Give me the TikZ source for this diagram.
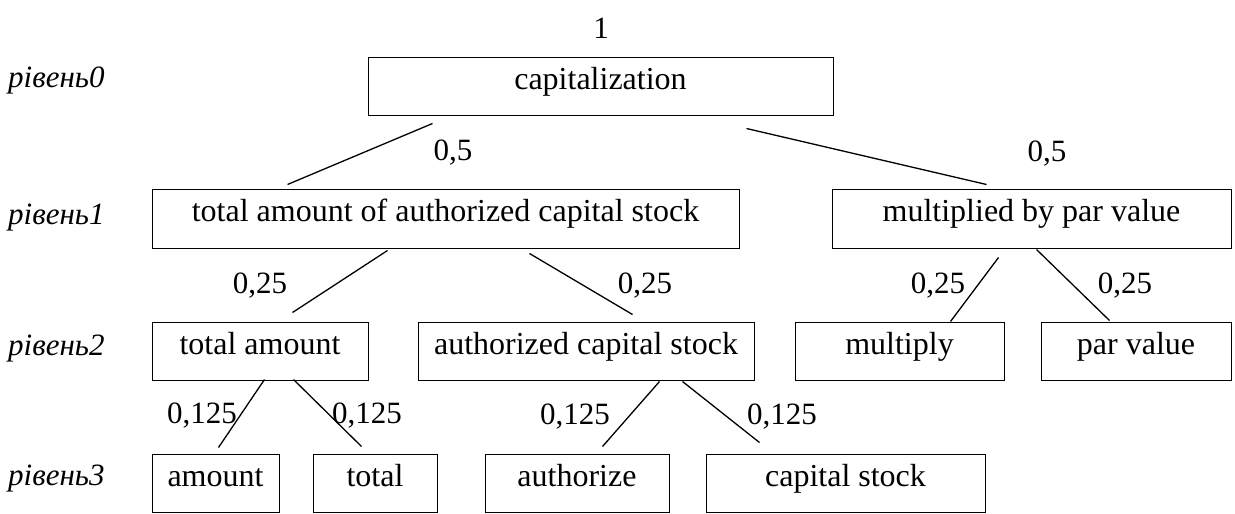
\documentclass[tikz,border=0pt]{standalone}
\usepackage{fontspec}
\setmainfont{Liberation Serif}
\usetikzlibrary{calc}
\begin{document}
\begin{tikzpicture}[x=1pt,y=-1pt,
  box/.style={draw,line width=1pt,inner sep=0pt,text height=14pt,text depth=8pt,font=\fontsize{32}{38}\selectfont},
  lvl/.style={anchor=west,inner sep=0pt,font=\fontsize{31}{36}\selectfont\itshape},
  wt/.style={inner sep=0pt,font=\fontsize{31}{36}\selectfont},
  conn/.style={line width=1.3pt}]
\useasboundingbox (0,0) rectangle (1235,514);
% level labels
\node[lvl] (l0) at (8,80) {рівень0};
\node[lvl] (l1) at (8,218) {рівень1};
\node[lvl] (l2) at (8,349) {рівень2};
\node[lvl] (l3) at (8,479) {рівень3};
\node[wt] (one) at (601,28) {1};
% level 0
\node[box,minimum width=465,minimum height=58] (cap) at (600.5,86) {capitalization};
% level 1
\node[box,minimum width=587,minimum height=59] (taac) at (445.5,218.5) {total amount of authorized capital stock};
\node[box,minimum width=399,minimum height=59] (mpv) at (1031.5,218.5) {multiplied by par value};
% level 2
\node[box,minimum width=216,minimum height=58] (ta) at (260,351) {total amount};
\node[box,minimum width=336,minimum height=58] (acs) at (586,351) {authorized capital stock};
\node[box,minimum width=209,minimum height=58] (mul) at (899.5,351) {multiply};
\node[box,minimum width=190,minimum height=58] (pv) at (1136,351) {par value};
% level 3
\node[box,minimum width=127,minimum height=58] (am) at (215.5,483) {amount};
\node[box,minimum width=124,minimum height=58] (tot) at (375,483) {total};
\node[box,minimum width=184,minimum height=58] (au) at (577,483) {authorize};
\node[box,minimum width=279,minimum height=58] (cs) at (845.5,483) {capital stock};
% connectors
\draw[conn] ($(cap.south west)+(65,8)$) -- ($(taac.north west)+(136,-4)$);
\draw[conn] ($(cap.south west)+(379,13)$) -- ($(mpv.north west)+(155,-4)$);
\draw[conn] ($(taac.south west)+(236,2)$) -- ($(ta.north west)+(141,-9)$);
\draw[conn] ($(taac.south west)+(378,5)$) -- ($(acs.north west)+(215,-7)$);
\draw[conn] ($(mpv.south west)+(167,9)$) -- ($(mul.north west)+(156,0)$);
\draw[conn] ($(mpv.south west)+(205,1)$) -- ($(pv.north west)+(69,-1)$);
\draw[conn] ($(ta.south west)+(113,-1)$) -- ($(am.north west)+(67,-6)$);
\draw[conn] ($(ta.south west)+(142,-1)$) -- ($(tot.north west)+(49,-7)$);
\draw[conn] ($(acs.south west)+(242,1)$) -- ($(au.north west)+(118,-7)$);
\draw[conn] ($(acs.south west)+(265,1)$) -- ($(cs.north west)+(54,-11)$);
% weights
\node[wt] (w1) at (453,153) {0,5};
\node[wt] (w2) at (1047,154) {0,5};
\node[wt] (w3) at (260,286) {0,25};
\node[wt] (w4) at (645,286) {0,25};
\node[wt] (w5) at (938,286) {0,25};
\node[wt] (w6) at (1125,286) {0,25};
\node[wt] (w7) at (202,416) {0,125};
\node[wt] (w8) at (367,416) {0,125};
\node[wt] (w9) at (575,417) {0,125};
\node[wt] (w10) at (782,417) {0,125};
\end{tikzpicture}
\end{document}
